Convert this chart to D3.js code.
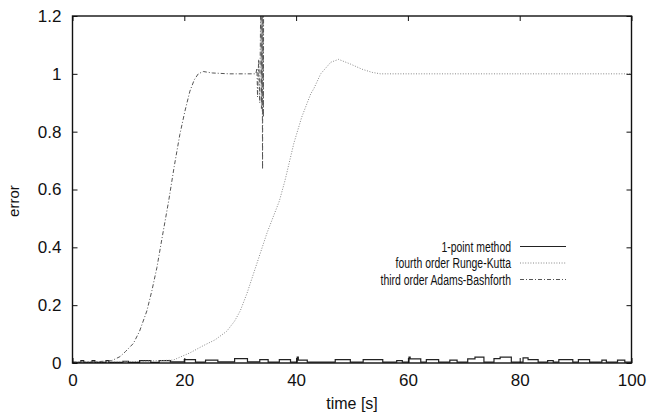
<!DOCTYPE html>
<html>
<head>
<meta charset="utf-8">
<script src="https://cdn.jsdelivr.net/npm/d3@7"></script>
<style>
  body { margin: 0; background: #fff; }
  svg text { font-family: "Liberation Sans", Arial, sans-serif; fill: #111; }
</style>
</head>
<body>
<svg id="chart" width="647" height="414"></svg>
<script>
// axis ticks
const xTicks = [0, 20, 40, 60, 80, 100];
const yTicks = [0, 0.2, 0.4, 0.6, 0.8, 1, 1.2];

// 1-point method (step shaped, small error)
const onePointT = [0, 1.5, 2, 3.5, 4, 6, 6.5, 9, 10, 12, 14, 15.5, 17.5, 20, 22, 23.8, 26, 29, 31.3, 33.5, 35,
    37, 39, 40.2, 40.4, 42, 47, 49.7, 52, 55.5, 58, 59, 60.2, 60.4, 62.3, 63.3, 65.5, 67.5, 68.8,
    70.7, 72, 73.6, 75.4, 76.5, 78.5, 80.6, 81.5, 83.3, 85, 86, 87, 89.5, 90.5, 92.5, 94.7, 95.5, 97.5, 98.8, 100];
const onePointErr = [0.002, 0.008, 0.002, 0.008, 0.002, 0.008, 0.002, 0.006, 0.002, 0.008, 0.002, 0.008, 0.004, 0.012, 0.003, 0.01, 0.004, 0.015, 0.004, 0.012, 0.003,
    0.012, 0.003, 0.02, 0.01, 0.003, 0.012, 0.003, 0.012, 0.003, 0.008, 0.003, 0.02, 0.014, 0.003, 0.012, 0.003, 0.01, 0.003,
    0.014, 0.02, 0.003, 0.015, 0.02, 0.003, 0.018, 0.012, 0.003, 0.008, 0.003, 0.012, 0.003, 0.012, 0.003, 0.01, 0.003, 0.01, 0.003, 0.003];

// fourth order Runge-Kutta
const rkT = [0, 10, 18, 19.2, 21, 23.4, 25.5, 27.6, 29, 30, 31.2, 32.4, 33.6, 34.8, 36, 37, 38, 39.6, 41, 42.6, 43.2,
    44.4, 46.2, 47.6, 49.7, 51.8, 53.6, 55.1, 100];
const rkErr = [0.002, 0.004, 0.01, 0.02, 0.035, 0.06, 0.08, 0.11, 0.145, 0.18, 0.24, 0.31, 0.38, 0.45, 0.51, 0.56, 0.63, 0.76, 0.85, 0.93, 0.95,
    1.0, 1.04, 1.05, 1.034, 1.016, 1.005, 1.0, 1.0];

// third order Adams-Bashforth (blows up around t = 34)
const abT = [0, 4, 7, 8.5, 9.5, 10.9, 12, 13.3, 14.2, 15.1, 16, 17.2, 18.2, 19.2, 20.1, 21, 21.8, 22.5, 23.4, 25, 28, 32.8,
    33.0, 33.1, 33.3, 33.5, 33.7, 33.8, 33.9, 34.0, 34.05, 34.15, 34.2];
const abErr = [0.003, 0.004, 0.008, 0.022, 0.04, 0.068, 0.11, 0.18, 0.25, 0.33, 0.43, 0.56, 0.68, 0.79, 0.87, 0.94, 0.98, 1.0, 1.008, 1.003, 1.0, 1.0,
    1.02, 0.92, 1.05, 0.9, 1.3, 0.88, 1.3, 0.67, 1.3, 0.85, 1.4];

const seriesNames = ["1-point method", "fourth order Runge-Kutta", "third order Adams-Bashforth"];

const margin = {left: 72.5, right: 15.5, top: 16, bottom: 51};
const width = 647, height = 414;

const svg = d3.select("#chart");
const xScale = d3.scaleLinear().domain([0, 100]).range([margin.left, width - margin.right]);
const yScale = d3.scaleLinear().domain([0, 1.2]).range([height - margin.bottom, margin.top]);

const styles = [
    {stroke: "#222", width: 1.2, dash: null, curve: d3.curveStepAfter},
    {stroke: "#888", width: 1, dash: "1,1.6", curve: d3.curveLinear},
    {stroke: "#555", width: 1, dash: "4,2,1,2", curve: d3.curveLinear}
];

const zip = (ts, vs) => ts.map((t, i) => [t, vs[i]]);
const allSeries = [zip(onePointT, onePointErr), zip(rkT, rkErr), zip(abT, abErr)];

svg.append("clipPath").attr("id", "plotclip")
    .append("rect")
    .attr("x", xScale(0)).attr("y", yScale(1.2))
    .attr("width", xScale(100) - xScale(0)).attr("height", yScale(0) - yScale(1.2));

const plot = svg.append("g").attr("clip-path", "url(#plotclip)");
allSeries.forEach((data, i) => {
    const line = d3.line().x(d => xScale(d[0])).y(d => yScale(d[1])).curve(styles[i].curve);
    plot.append("path")
        .datum(data)
        .attr("fill", "none")
        .attr("stroke", styles[i].stroke)
        .attr("stroke-width", styles[i].width)
        .attr("stroke-dasharray", styles[i].dash)
        .attr("d", line);
});

// axes, ticks pointing inward on all four sides
function styleAxis(g) {
    g.select(".domain").remove();
    g.selectAll(".tick line").attr("stroke", "#111").attr("stroke-width", 1);
    g.selectAll(".tick text").attr("font-size", 17).attr("fill", "#111");
}
svg.append("g")
    .attr("transform", "translate(0," + yScale(0) + ")")
    .call(d3.axisBottom(xScale).tickValues(xTicks).tickSize(-5).tickPadding(11).tickFormat(d3.format("d")))
    .call(styleAxis);
svg.append("g")
    .attr("transform", "translate(" + xScale(0) + ",0)")
    .call(d3.axisLeft(yScale).tickValues(yTicks).tickSize(-5).tickPadding(11).tickFormat(d => d === 0 || d === 1 ? d : d.toFixed(1)))
    .call(styleAxis);
svg.append("g")
    .attr("transform", "translate(0," + yScale(1.2) + ")")
    .call(d3.axisTop(xScale).tickValues(xTicks).tickSize(-5).tickFormat(""))
    .call(styleAxis);
svg.append("g")
    .attr("transform", "translate(" + xScale(100) + ",0)")
    .call(d3.axisRight(yScale).tickValues(yTicks).tickSize(-5).tickFormat(""))
    .call(styleAxis);

svg.append("rect")
    .attr("x", xScale(0)).attr("y", yScale(1.2))
    .attr("width", xScale(100) - xScale(0)).attr("height", yScale(0) - yScale(1.2))
    .attr("fill", "none").attr("stroke", "#111").attr("stroke-width", 1.4);

// axis labels
svg.append("text")
    .attr("x", (xScale(0) + xScale(100)) / 2)
    .attr("y", 409)
    .attr("text-anchor", "middle")
    .attr("font-size", 16)
    .text("time [s]");
svg.append("text")
    .attr("transform", "translate(19," + yScale(0.56) + ") rotate(-90)")
    .attr("text-anchor", "middle")
    .attr("font-size", 15)
    .text("error");

// legend
const legend = svg.append("g");
seriesNames.forEach((name, i) => {
    const y = 246.5 + i * 16.5;
    legend.append("text")
        .attr("transform", "translate(511," + (y + 5) + ") scale(0.72,1)")
        .attr("text-anchor", "end")
        .attr("font-size", 14.5)
        .text(name);
    legend.append("line")
        .attr("x1", 520).attr("x2", 566)
        .attr("y1", y).attr("y2", y)
        .attr("stroke", styles[i].stroke)
        .attr("stroke-width", styles[i].width)
        .attr("stroke-dasharray", styles[i].dash);
});
</script>
</body>
</html>
